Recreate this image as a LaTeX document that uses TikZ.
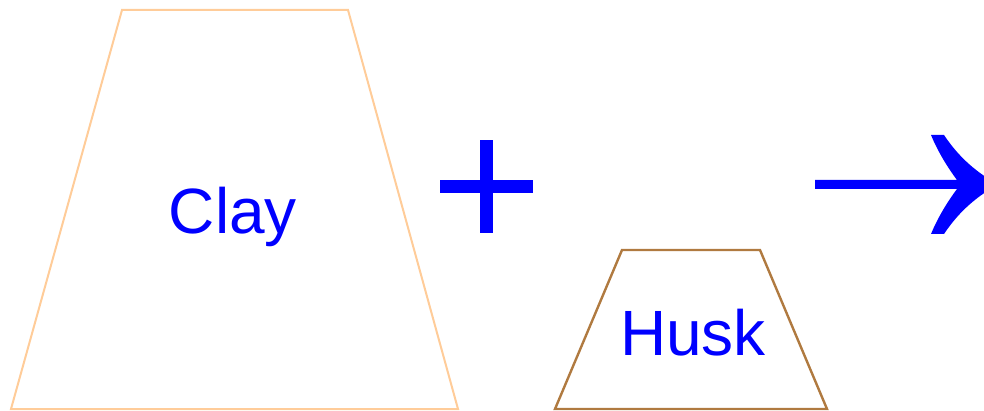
\documentclass[tikz,border=0pt]{standalone}
\usepackage{fontspec}
\setmainfont{Liberation Sans}
\definecolor{claycol}{HTML}{FFCC99}
\definecolor{huskcol}{HTML}{B07A40}
\definecolor{opblue}{RGB}{0,0,255}
\tikzset{
  claybox/.style={draw=claycol, line width=2pt, line join=miter},
  huskbox/.style={draw=huskcol, line width=2.4pt, line join=miter},
  lbl/.style={text=opblue, font=\fontsize{64}{70}\selectfont, anchor=base, inner sep=0pt},
  opsym/.style={fill=opblue, draw=none}
}
\begin{document}
\begin{tikzpicture}[x=1pt,y=-1pt]
\useasboundingbox (0,0) rectangle (984,411);
\clip (0,0) rectangle (984,411);
% Clay trapezoid
\draw[claybox] (122,10) -- (348,10) -- (458,409) -- (11,409) -- cycle;
\node[lbl] (clay) at (233,234) {Clay};
% plus sign
\fill[opsym] (480,140) rectangle (493,233);
\fill[opsym] (440,180) rectangle (533,193);
% Husk trapezoid
\draw[huskbox] (622,250) -- (760,250) -- (827,409) -- (555,409) -- cycle;
\node[lbl] (husk) at (693,355) {Husk};
% arrow
\fill[opsym] (815,180) -- (957,180)
  .. controls (948,168) and (938,152) .. (931,135)
  -- (944,135)
  .. controls (956,153) and (972,170) .. (998,184.5)
  .. controls (972,199) and (956,216) .. (944,234)
  -- (931,234)
  .. controls (938,217) and (948,201) .. (957,189)
  -- (815,189) -- cycle;
\end{tikzpicture}
\end{document}
